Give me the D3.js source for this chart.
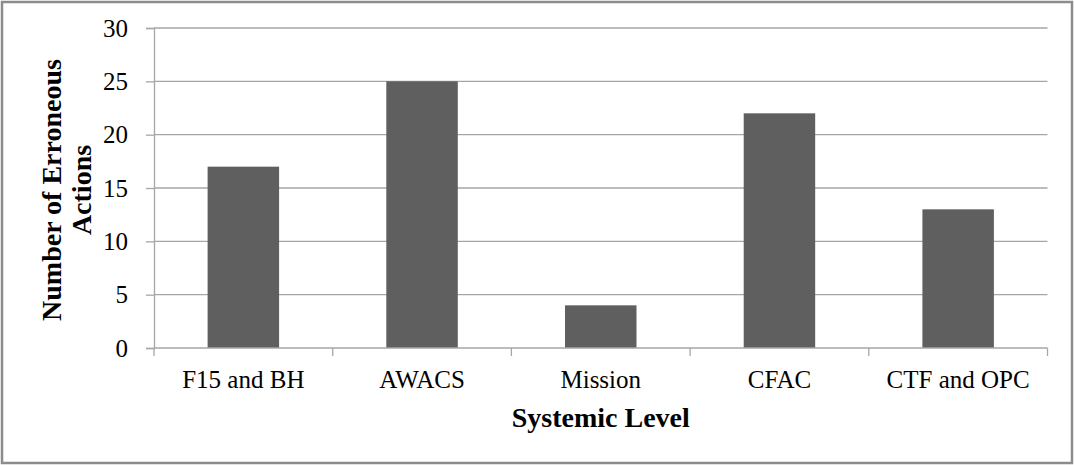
<!DOCTYPE html>
<html>
<head>
<meta charset="utf-8">
<script src="https://cdn.jsdelivr.net/npm/d3@7"></script>
<style>
  body { margin: 0; background: #fff; }
  text { font-family: "Liberation Serif", "Times New Roman", serif; fill: #000; }
</style>
</head>
<body>
<div class="canvas"></div>
<script>
// Chart data
const categories = ['F15 and BH', 'AWACS', 'Mission', 'CFAC', 'CTF and OPC']
const actions = [17, 25, 4, 22, 13]
const yTicks = [0, 5, 10, 15, 20, 25, 30]

const width = 1074
const height = 465
const margin = {top: 28, right: 26.5, bottom: 117, left: 154}

const svg = d3.select('.canvas')
  .append('svg')
    .attr('width', width)
    .attr('height', height)

// outer frame
svg.append('rect')
  .attr('x', 2).attr('y', 2)
  .attr('width', width - 4).attr('height', height - 4)
  .attr('fill', '#fff')
  .attr('stroke', '#8c8c8c')
  .attr('stroke-width', 2.5)

const x = d3.scaleBand()
  .domain(categories)
  .range([margin.left, width - margin.right])

const y = d3.scaleLinear()
  .domain([0, 30])
  .range([height - margin.bottom, margin.top])

// gridlines
svg.append('g')
  .selectAll('line')
  .data(yTicks.filter(d => d > 0))
  .enter()
  .append('line')
    .attr('x1', margin.left)
    .attr('x2', width - margin.right)
    .attr('y1', d => y(d))
    .attr('y2', d => y(d))
    .attr('stroke', '#a6a6a6')
    .attr('stroke-width', 1.3)

// bars (gap width 150%)
const barW = x.bandwidth() * 0.4
svg.append('g')
  .selectAll('rect')
  .data(actions)
  .enter()
  .append('rect')
    .attr('x', (d, i) => x(categories[i]) + (x.bandwidth() - barW) / 2)
    .attr('y', d => y(d))
    .attr('width', barW)
    .attr('height', d => y(0) - y(d))
    .attr('fill', '#5f5f5f')

// y axis
const yAxis = svg.append('g')
  .attr('transform', `translate(${margin.left},0)`)
  .call(d3.axisLeft(y).tickValues(yTicks).tickSize(8).tickPadding(18))
yAxis.selectAll('line, path').attr('stroke', '#a6a6a6').attr('stroke-width', 1.3)
yAxis.selectAll('text').attr('font-size', 25).style('font-family', '"Liberation Serif", serif')

// x axis with boundary ticks
const xAxis = svg.append('g')
  .attr('transform', `translate(0,${y(0)})`)
xAxis.append('line')
  .attr('x1', margin.left).attr('x2', width - margin.right)
  .attr('stroke', '#a6a6a6').attr('stroke-width', 1.3)
xAxis.selectAll('.tick')
  .data(categories.concat(['end']))
  .enter()
  .append('line')
    .attr('x1', (d, i) => i < categories.length ? x(d) : width - margin.right)
    .attr('x2', (d, i) => i < categories.length ? x(d) : width - margin.right)
    .attr('y1', 0).attr('y2', 8)
    .attr('stroke', '#a6a6a6').attr('stroke-width', 1.3)
xAxis.selectAll('text')
  .data(categories)
  .enter()
  .append('text')
    .attr('x', d => x(d) + x.bandwidth() / 2)
    .attr('y', 40)
    .attr('text-anchor', 'middle')
    .attr('font-size', 25)
    .text(d => d)

// axis titles
svg.append('text')
  .attr('x', (margin.left + width - margin.right) / 2)
  .attr('y', 427)
  .attr('text-anchor', 'middle')
  .attr('font-size', 28)
  .attr('font-weight', 'bold')
  .text('Systemic Level')

const yTitle = svg.append('text')
  .attr('transform', 'translate(61,190) rotate(-90)')
  .attr('text-anchor', 'middle')
  .attr('font-size', 28)
  .attr('font-weight', 'bold')
yTitle.append('tspan').attr('x', 0).attr('y', 0).text('Number of Erroneous')
yTitle.append('tspan').attr('x', 0).attr('y', 30).text('Actions')
</script>
</body>
</html>
